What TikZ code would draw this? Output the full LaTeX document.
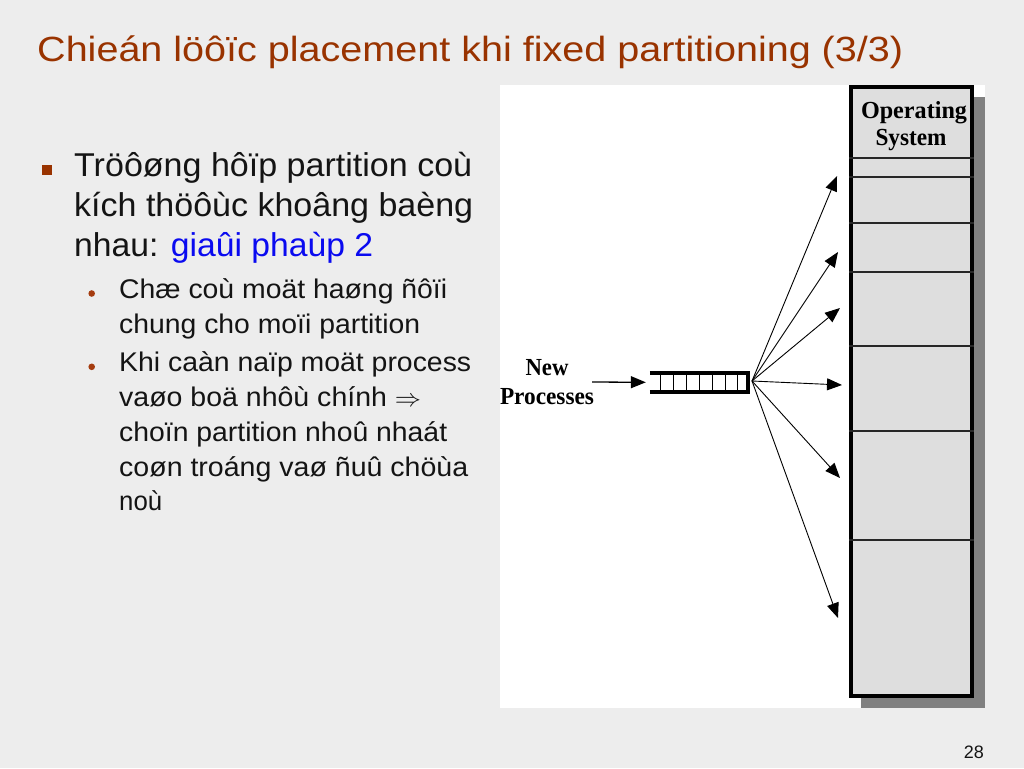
\documentclass[tikz,border=0pt]{standalone}
\usepackage{fontspec}
\usepackage{graphicx}
\setmainfont{Liberation Sans}
\newfontfamily\figserif{Liberation Serif}
\usetikzlibrary{arrows.meta}
\definecolor{bgc}{RGB}{237,237,237}
\definecolor{brn}{RGB}{153,51,0}
\definecolor{dotc}{RGB}{165,60,15}
\definecolor{blu}{RGB}{10,10,240}
\definecolor{txt}{RGB}{20,20,20}
\definecolor{memfill}{RGB}{222,222,222}
\definecolor{shad}{RGB}{128,128,128}
\newcommand\fitwide[2]{\resizebox{#1pt}{\height}{#2}}
\tikzset{
  ttl/.style={anchor=base west, inner sep=0pt, text=brn, font=\fontsize{35}{40}\selectfont},
  body/.style={anchor=base west, inner sep=0pt, text=txt, font=\fontsize{33}{40}\selectfont},
  subtext/.style={anchor=base west, inner sep=0pt, text=txt, font=\fontsize{27}{35}\selectfont},
  figlabel/.style={anchor=base, inner sep=0pt, text=black, font=\figserif\bfseries\fontsize{24.5}{28}\selectfont},
  fan/.style={-{Triangle[length=15pt,width=12pt]}, line width=0.9pt, black},
  partline/.style={line width=1.2pt, black!85},
}
\begin{document}
\begin{tikzpicture}[x=1pt,y=-1pt]
\useasboundingbox (0,0) rectangle (1024,768);
\fill[bgc] (0,0) rectangle (1024,768);

% title
\node[ttl] (title) at (37,61) {\fitwide{866}{Chieán löôïc placement khi fixed partitioning (3/3)}};

% left text
\fill[brn] (41.5,165) rectangle (51.5,174.5);
\node[body] (m1) at (74,176) {\fitwide{398}{Tröôøng hôïp partition coù}};
\node[body] (m2) at (74,216) {\fitwide{399}{kích thöôùc khoâng baèng}};
\node[body] (m3) at (74,256) {\fitwide{299}{nhau: \textcolor{blu}{giaûi phaùp 2}}};

\fill[dotc] (91.7,293.5) circle (3.3);
\node[subtext] (s1) at (119,298.5) {\fitwide{328}{Chæ coù moät haøng ñôïi}};
\node[subtext] (s2) at (119,333.5) {\fitwide{301}{chung cho moïi partition}};
\fill[dotc] (91.7,366.8) circle (3.3);
\node[subtext] (s3) at (119,371.7) {\fitwide{352}{Khi caàn naïp moät process}};
\node[subtext] (s4) at (119,406.7) {\fitwide{302}{vaøo boä nhôù chính $\Rightarrow$}};
\node[subtext] (s5) at (119,441.7) {\fitwide{328}{choïn partition nhoû nhaát}};
\node[subtext] (s6) at (119,476.7) {\fitwide{349}{coøn troáng vaø ñuû chöùa}};
\node[subtext] (s7) at (119,510.7) {\fitwide{43}{noù}};

% page number
\node[anchor=base east, inner sep=0pt, text=txt, font=\fontsize{18}{20}\selectfont] (pg) at (984,758) {28};

% figure panel
\fill[white] (500,85) rectangle (985,708);
\fill[shad] (861,97) rectangle (985,708);
\node[draw=black, line width=3.5pt, fill=memfill, minimum width=121pt, minimum height=609pt, inner sep=0pt] (mem) at (911.5,391.5) {};
\foreach \yy in {158,177,223,272,346,431,540}
  \draw[partline] (mem.west |- 0,\yy) -- (mem.east |- 0,\yy);
\node[figlabel] (os1) at (914,118) {\fitwide{106}{Operating}};
\node[figlabel] (os2) at (911,145) {\fitwide{71}{System}};

% new processes label
\node[figlabel] (np1) at (547,375) {\fitwide{43}{New}};
\node[figlabel] (np2) at (547,404) {\fitwide{94}{Processes}};

% queue
\node[inner sep=0pt, minimum width=100pt, minimum height=18.5pt] (queue) at (700,382.3) {};
\draw[line width=3.5pt] (queue.north west) -- (queue.north east);
\draw[line width=3.5pt] (queue.south west) -- (queue.south east);
\draw[line width=4.5pt] ([xshift=-2.25pt]queue.north east) -- ([xshift=-2.25pt]queue.south east);
\foreach \xx in {660,673,686.5,699,712,725,737}
  \draw[line width=1pt] (\xx,373) -- (\xx,391.7);

% arrows
\coordinate (inA) at (592,382);
\draw[fan, line width=1.3pt] (inA) -- ([xshift=-4pt]queue.west);
\coordinate (fan0) at (752,381);
\coordinate (t1) at (837,176);
\coordinate (t2) at (838,252);
\coordinate (t3) at (840,308);
\coordinate (t4) at (842,385);
\coordinate (t5) at (840,478);
\coordinate (t6) at (838,618);
\foreach \t in {t1,t2,t3,t4,t5,t6}
  \draw[fan] (fan0) -- (\t);
\end{tikzpicture}
\end{document}
